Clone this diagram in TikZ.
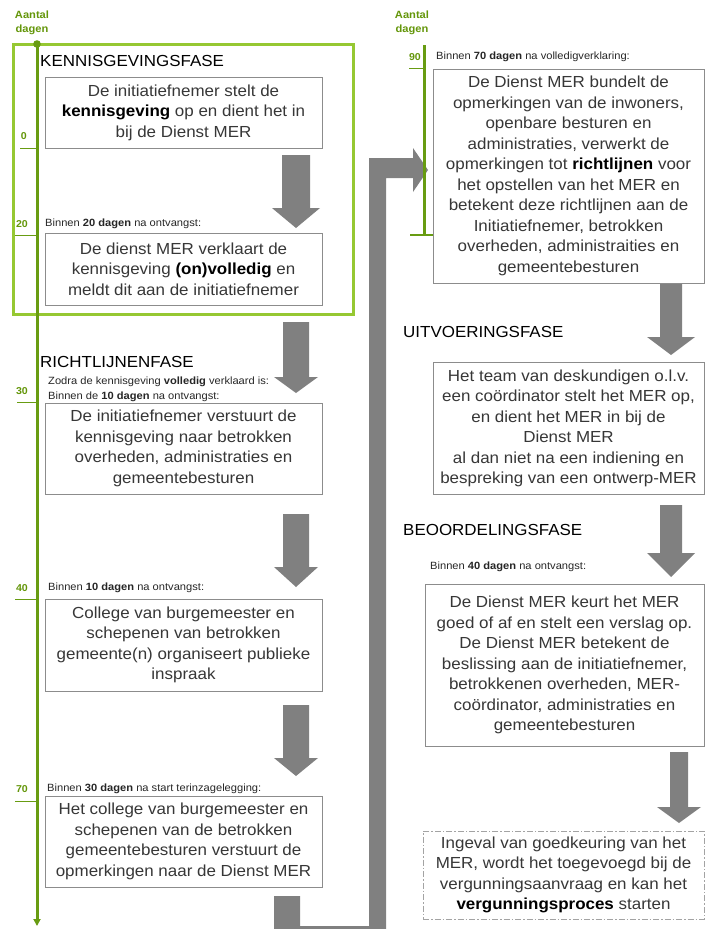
\documentclass[tikz,border=0pt]{standalone}
\usepackage{fontspec}
\setmainfont[FakeStretch=1.06]{Liberation Sans}
\usetikzlibrary{arrows.meta}
\definecolor{tlgreen}{RGB}{104,156,18}
\definecolor{framegreen}{RGB}{150,200,50}
\definecolor{numgreen}{RGB}{100,150,10}
\definecolor{arrowgray}{RGB}{128,128,128}
\definecolor{boxline}{RGB}{140,140,140}
\definecolor{boxtext}{RGB}{55,55,55}
\newcommand{\blockarr}[6]{%
  \fill[arrowgray] ({#1-#5},#2) -- ({#1+#5},#2) -- ({#1+#5},#3) -- ({#1+#6},#3) -- (#1,#4) -- ({#1-#6},#3) -- ({#1-#5},#3) -- cycle;}
\begin{document}
\begin{tikzpicture}[x=1pt,y=-1pt,
  box/.style={draw=boxline, line width=0.8pt, fill=white, text=boxtext, align=center, inner sep=0pt, font=\fontsize{16}{20.5}\selectfont},
  dashbox/.style={box, draw=boxline!80, dash pattern=on 6pt off 2pt on 1.5pt off 2pt},
  phase/.style={anchor=west, inner sep=0pt, font=\fontsize{16}{19}\selectfont, text=black},
  note/.style={anchor=west, inner sep=0pt, font=\fontsize{10.5}{15}\selectfont, text=black!85, align=left},
  daynum/.style={anchor=east, inner sep=0pt, font=\bfseries\fontsize{10}{12}\selectfont, text=numgreen},
  axislabel/.style={inner sep=0pt, align=center, font=\bfseries\fontsize{10.5}{14}\selectfont, text=numgreen},
  timeline/.style={draw=tlgreen, line width=3pt},
  tick/.style={draw=tlgreen, line width=1pt}
]
\path[use as bounding box] (0,0) rectangle (706,929);

% green frame of first phase
\draw[framegreen, line width=3pt] (13,44) rectangle (353,314);

% block arrows, left column
\blockarr{296}{155}{208}{228}{14}{24}
\blockarr{296}{322}{377}{393}{13}{22}
\blockarr{296}{514}{567}{587}{13}{22}
\blockarr{296}{705}{758}{776}{13}{22}
% block arrows, right column
\blockarr{671}{282}{337}{355}{11}{24}
\blockarr{671}{505}{553}{577}{11}{24}
\blockarr{679}{752}{807}{823}{9}{22}

% long connector from left column to right column
\fill[arrowgray] (274,935) -- (274,896) -- (300,896) -- (300,926) -- (369,926) -- (369,158)
  -- (413,158) -- (413,148) -- (428,170) -- (413,192) -- (413,178) -- (386,178) -- (386,935) -- cycle;

% left timeline
\node[axislabel] (axL) at (32,23) {Aantal\\dagen};
\coordinate (tlLtop) at (37,44);
\coordinate (tlLend) at (37,926);
\draw[timeline, -{Triangle[width=7pt,length=7pt]}] (tlLtop) -- (tlLend);
\fill[tlgreen] (tlLtop) circle (3.8pt);
\draw[tick] (20,148) -- (37,148); \node[daynum] (d0) at (27,136) {0};
\draw[tick] (15,235) -- (37,235); \node[daynum] (d20) at (28,224) {20};
\draw[tick] (17,402) -- (37,402); \node[daynum] (d30) at (28,391) {30};
\draw[tick] (15,599) -- (37,599); \node[daynum] (d40) at (28,588) {40};
\draw[tick] (15,801) -- (37,801); \node[daynum] (d70) at (28,789) {70};

% right timeline
\node[axislabel] (axR) at (412,23) {Aantal\\dagen};
\coordinate (tlRtop) at (424,45);
\coordinate (tlRend) at (424,235);
\draw[timeline] (tlRtop) -- (tlRend);
\draw[tlgreen, line width=2.2pt] (410,235) -- (433,235);
\draw[tick] (409,68) -- (424,68); \node[daynum] (d90) at (421,57) {90};

% phase titles
\node[phase] (p1) at (40,61) {KENNISGEVINGSFASE};
\node[phase] (p2) at (40,362) {RICHTLIJNENFASE};
\node[phase] (p3) at (403,332) {UITVOERINGSFASE};
\node[phase] (p4) at (403,530) {BEOORDELINGSFASE};

% notes
\node[note] (n1) at (45,224) {Binnen \textbf{20 dagen} na ontvangst:};
\node[note] (n2) at (48,389.5) {Zodra de kennisgeving \textbf{volledig} verklaard is:\\Binnen de \textbf{10 dagen} na ontvangst:};
\node[note] (n3) at (48,588) {Binnen \textbf{10 dagen} na ontvangst:};
\node[note] (n4) at (47,789) {Binnen \textbf{30 dagen} na start terinzagelegging:};
\node[note] (n5) at (436,57) {Binnen \textbf{70 dagen} na volledigverklaring:};
\node[note] (n6) at (430,567) {Binnen \textbf{40 dagen} na ontvangst:};

% left column boxes
\node[box, minimum width=277, minimum height=71] (L1) at (183.5,112.5)
  {De initiatiefnemer stelt de\\\textcolor{black}{\textbf{kennisgeving}} op en dient het in\\bij de Dienst MER};
\node[box, minimum width=277, minimum height=72] (L2) at (183.5,269)
  {De dienst MER verklaart de\\kennisgeving \textcolor{black}{\textbf{(on)volledig}} en\\meldt dit aan de initiatiefnemer};
\node[box, minimum width=277, minimum height=91] (L3) at (183.5,448.5)
  {De initiatiefnemer verstuurt de\\kennisgeving naar betrokken\\overheden, administraties en\\gemeentebesturen};
\node[box, minimum width=277, minimum height=92] (L4) at (183.5,645)
  {College van burgemeester en\\schepenen van betrokken\\gemeente(n) organiseert publieke\\inspraak};
\node[box, minimum width=277, minimum height=91] (L5) at (183.5,841.5)
  {Het college van burgemeester en\\schepenen van de betrokken\\gemeentebesturen verstuurt de\\opmerkingen naar de Dienst MER};

% right column boxes
\node[box, minimum width=271, minimum height=214] (R1) at (568.5,176)
  {De Dienst MER bundelt de\\opmerkingen van de inwoners,\\openbare besturen en\\administraties, verwerkt de\\opmerkingen tot \textcolor{black}{\textbf{richtlijnen}} voor\\het opstellen van het MER en\\betekent deze richtlijnen aan de\\Initiatiefnemer, betrokken\\overheden, administraities en\\gemeentebesturen};
\node[box, minimum width=271, minimum height=132] (R2) at (568.5,428.5)
  {Het team van deskundigen o.l.v.\\een coördinator stelt het MER op,\\en dient het MER in bij de\\Dienst MER\\al dan niet na een indiening en\\bespreking van een ontwerp-MER};
\node[box, minimum width=279, minimum height=162] (R3) at (564.5,665)
  {De Dienst MER keurt het MER\\goed of af en stelt een verslag op.\\De Dienst MER betekent de\\beslissing aan de initiatiefnemer,\\betrokkenen overheden, MER-\\coördinator, administraties en\\gemeentebesturen};
\node[dashbox, minimum width=281, minimum height=88] (R4) at (563.5,875)
  {Ingeval van goedkeuring van het\\MER, wordt het toegevoegd bij de\\vergunningsaanvraag en kan het\\\textcolor{black}{\textbf{vergunningsproces}} starten};
\end{tikzpicture}
\end{document}
